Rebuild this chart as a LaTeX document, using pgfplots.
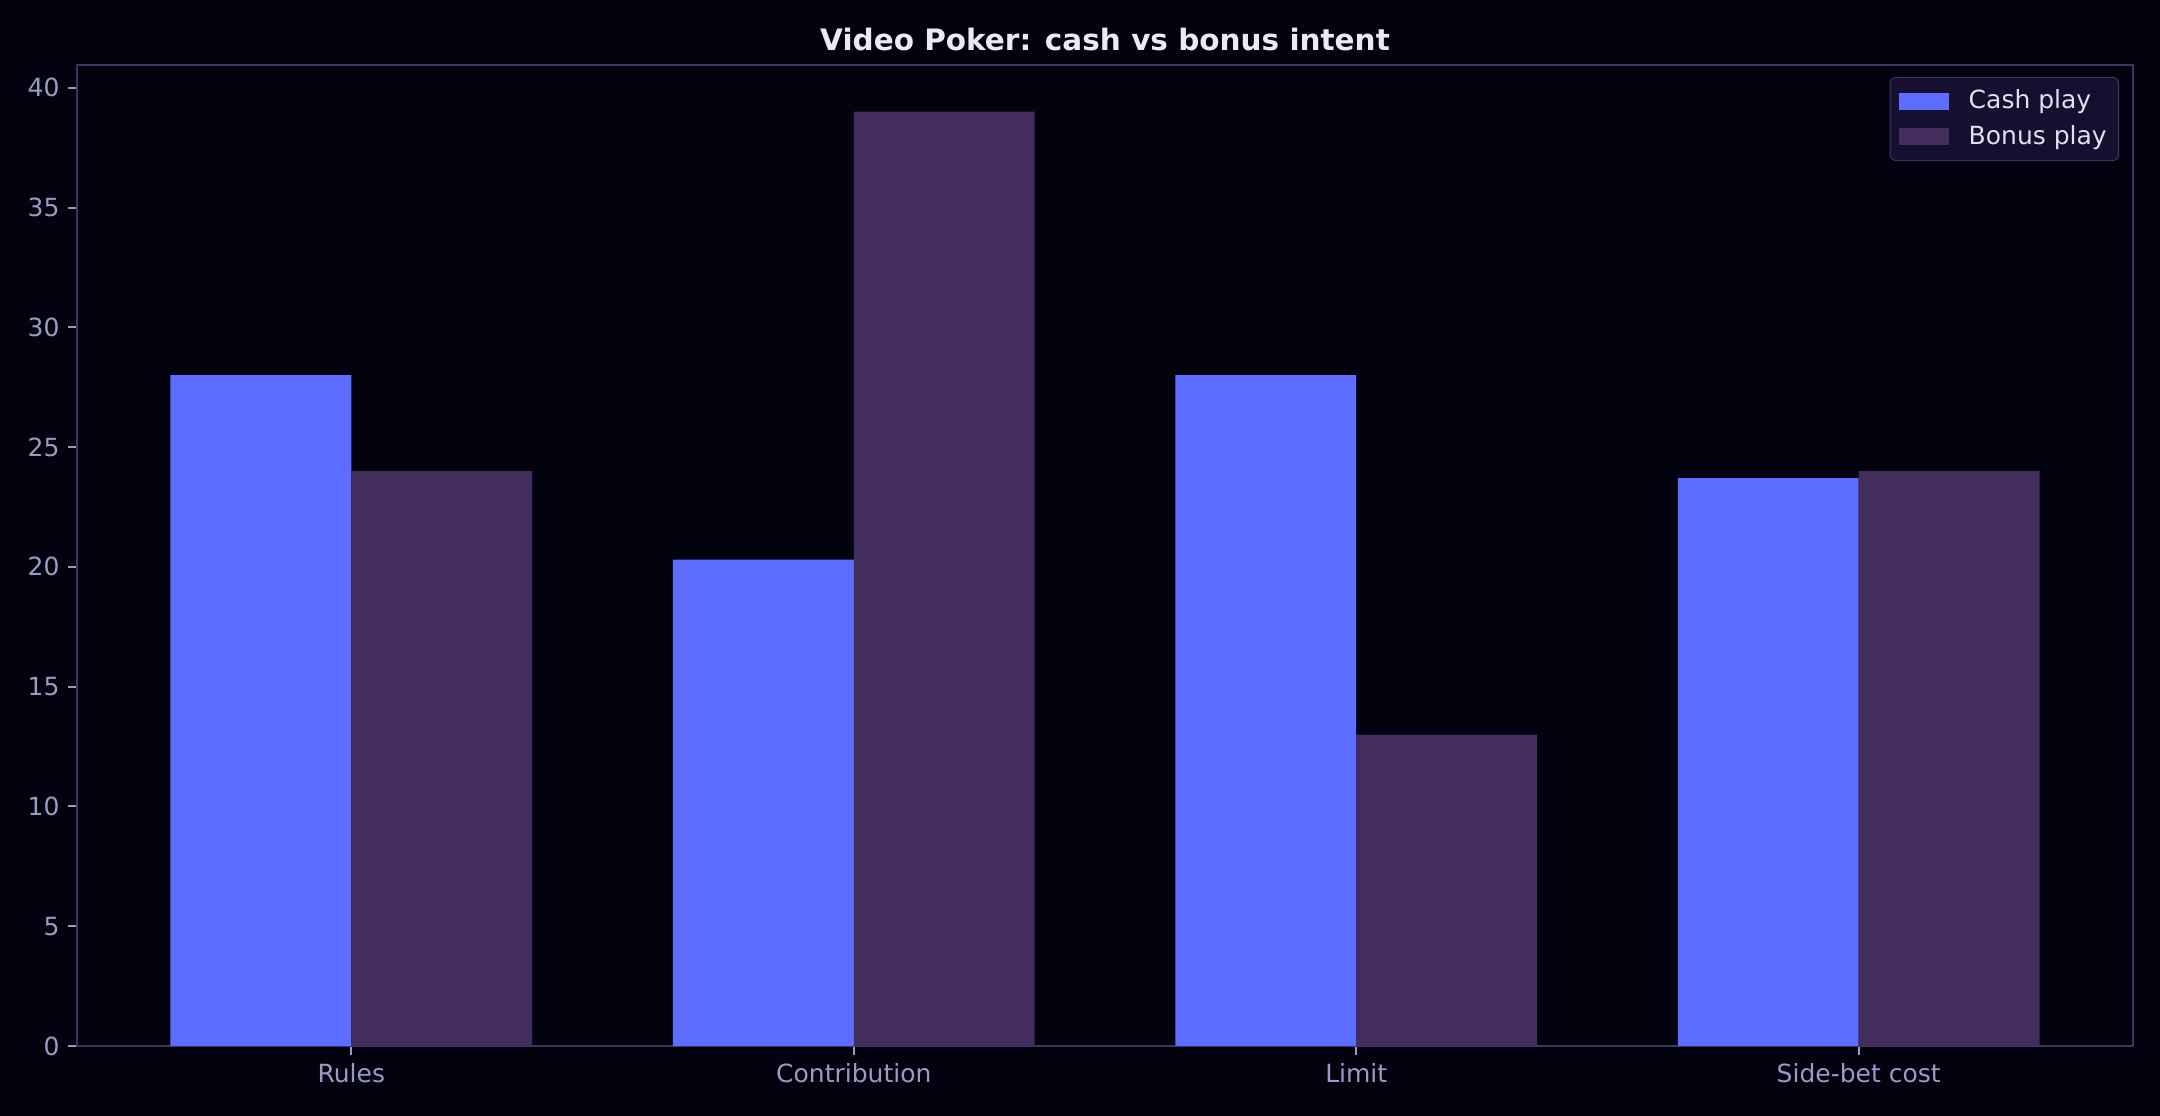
\documentclass[border=0pt]{standalone}
\usepackage{fontspec}
\setmainfont{DejaVu Sans}
\usepackage{pgfplots}
\pgfplotsset{compat=1.18}
\definecolor{bg}{HTML}{03030F}
\definecolor{cash}{HTML}{5D6DFF}
\definecolor{bonus}{HTML}{432D5C}
\definecolor{spine}{HTML}{3A3663}
\definecolor{ticklab}{HTML}{9C9AC4}
\definecolor{titlecol}{HTML}{EAEAF6}
\definecolor{legfill}{HTML}{150F30}
\definecolor{legborder}{HTML}{3A3562}
\definecolor{legtext}{HTML}{E0E0F0}
\begin{document}
\begin{tikzpicture}
\fill[bg] (-30.8pt,-28pt) rectangle (833.2pt,418.4pt);
\begin{axis}[
  name=main,
  at={(0,0)}, anchor=south west,
  scale only axis, width=822.4pt, height=392.4pt,
  xmin=-0.546, xmax=3.546, ymin=0, ymax=40.95,
  axis line style={draw=spine, line width=0.8pt},
  tick align=outside, xtick pos=bottom, ytick pos=left,
  major tick length=3.5pt,
  tick style={color=ticklab, line width=0.8pt},
  xtick={0,1,2,3},
  xticklabels={Rules, Contribution, Limit, Side-bet cost},
  ytick={0,5,...,40},
  ticklabel style={font=\fontsize{10}{12}\selectfont, text=ticklab},
  /pgf/number format/assume math mode=true,
  ybar, bar width=0.36,
  legend style={at={(1,1)}, xshift=-5.6pt, yshift=-4.8pt, anchor=north east,
    fill=legfill, draw=legborder, rounded corners=2pt, text=legtext,
    font=\fontsize{10}{12}\selectfont, inner xsep=3.6pt, inner ysep=3pt,
    row sep=1pt, column sep=6.75pt, nodes={inner xsep=1.1pt}},
  legend cell align=left,
]
\addplot[fill=cash, draw=none, bar shift=-0.18,
  legend image code/.code={\fill[cash, sharp corners] (0pt,-3.5pt) rectangle (20pt,3.5pt);}]
  coordinates {(0,28) (1,20.3) (2,28) (3,23.7)};
\addlegendentry{Cash play}
\addplot[fill=bonus, draw=none, bar shift=0.18,
  legend image code/.code={\fill[bonus, sharp corners] (0pt,-3.5pt) rectangle (20pt,3.5pt);}]
  coordinates {(0,24) (1,39) (2,13) (3,24)};
\addlegendentry{Bonus play}
\end{axis}
\node[font=\bfseries\fontsize{11.8}{14}\selectfont, text=titlecol] at ([yshift=10pt]main.north) {Video Poker: cash vs bonus intent};
\end{tikzpicture}
\end{document}
